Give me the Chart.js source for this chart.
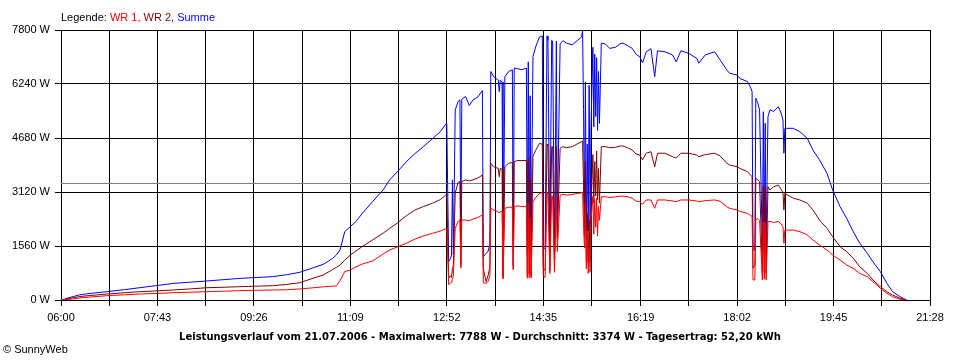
<!DOCTYPE html>
<html>
<head>
<meta charset="utf-8">
<script src="https://cdn.jsdelivr.net/npm/chart.js@4.4.1/dist/chart.umd.min.js"></script>
<style>
  html, body { margin: 0; padding: 0; background: #fff; }
</style>
</head>
<body>
<canvas id="leistung" width="960" height="360"></canvas>
<script>
// Achsen
const zeitAchse = ['06:00', '07:43', '09:26', '11:09', '12:52', '14:35', '16:19', '18:02', '19:45', '21:28'];
const wattAchse = [0, 1560, 3120, 4680, 6240, 7800];

// Messwerte (W)
const zeit = [
    '06:00','06:02','06:05','06:13','06:20','06:31','06:49','07:08','07:24','07:43',
    '08:00','08:18','08:36','08:55','09:11','09:29','09:46','10:01','10:15','10:26',
    '10:40','10:50','10:54','10:58','11:03','11:09','11:15','11:22','11:33','11:44',
    '11:51','11:59','12:09','12:18','12:27','12:37','12:45','12:51','12:52','12:54',
    '12:56','12:57','12:58','12:59','13:01','13:04','13:06','13:07','13:08','13:12',
    '13:16','13:20','13:25','13:30','13:31','13:34','13:36','13:38','13:39','13:42',
    '13:47','13:48','13:49','13:51','13:52','13:54','13:58','14:02','14:03','14:04',
    '14:08','14:12','14:17','14:18','14:19','14:20','14:21','14:22','14:24','14:27',
    '14:31','14:34','14:35','14:37','14:39','14:40','14:42','14:44','14:45','14:47',
    '14:49','14:50','14:53','14:56','15:00','15:06','15:12','15:16','15:17','15:18',
    '15:19','15:20','15:21','15:22','15:23','15:24','15:25','15:26','15:28','15:29',
    '15:30','15:31','15:32','15:33','15:34','15:35','15:37','15:41','15:46','15:52',
    '15:57','16:00','16:05','16:10','16:14','16:18','16:21','16:25','16:30','16:34',
    '16:37','16:45','16:53','16:57','17:02','17:10','17:19','17:21','17:28','17:38',
    '17:44','17:51','17:54','18:02','18:05','18:13','18:16','18:18','18:19','18:21',
    '18:22','18:24','18:26','18:29','18:30','18:31','18:32','18:33','18:35','18:37',
    '18:41','18:46','18:49','18:51','18:52','18:53','19:02','19:09','19:17','19:23',
    '19:30','19:38','19:44','19:52','19:59','20:06','20:13','20:21','20:27','20:35',
    '20:42','20:48','20:56','21:03'
];
const wr1 = [
    0,0,10,30,60,85,125,150,173,190,
    212,225,240,255,270,280,290,295,320,345,
    380,400,405,560,820,866,960,1040,1130,1330,
    1445,1530,1640,1760,1850,1930,1990,2060,2070,440,
    500,500,600,700,2070,2270,2310,920,2310,2310,
    2290,2340,2380,2455,500,480,530,700,2650,2600,
    2550,2510,2550,2550,620,2650,2680,2680,870,2700,
    2720,2700,2700,630,2800,640,2400,630,2840,2960,
    3080,3100,700,650,3100,3050,770,3000,3000,800,
    3000,1400,3030,3050,3030,3050,3080,3100,3120,2200,
    1500,2800,900,2000,770,1500,800,2300,3000,1900,
    2900,2100,2950,1850,2700,2300,2985,2985,2960,2980,
    3000,3000,2985,2940,2860,2840,2770,2890,2890,2650,
    2890,2890,2860,2840,2890,2890,2860,2840,2870,2890,
    2850,2695,2650,2600,2560,2505,2450,2410,578,580,
    2330,2350,2300,578,2270,600,2250,578,2265,2270,
    2240,2270,2200,2120,1640,2020,2020,1975,1880,1733,
    1590,1445,1300,1155,1010,915,770,673,530,337,
    193,96,20,0
];
const wr2 = [
    0,0,20,66,100,130,173,210,240,265,
    290,320,355,370,385,400,413,450,500,600,
    720,880,940,1010,1150,1300,1415,1550,1740,1930,
    2070,2220,2440,2600,2700,2800,2900,3030,3030,630,
    700,650,900,1000,3090,3400,3420,1000,3420,3470,
    3440,3470,3520,3610,900,530,700,950,3950,3850,
    3800,3560,3800,3780,700,3850,3950,3970,900,4000,
    4030,4030,4030,700,4100,750,3500,700,4140,4330,
    4525,4500,900,860,4500,4450,850,4430,4430,1000,
    4430,1800,4380,4430,4400,4430,4520,4570,4600,3300,
    1800,4000,1100,2500,1060,2300,1100,2700,4200,2800,
    4000,3000,4300,2900,3800,2800,4430,4430,4400,4410,
    4450,4450,4400,4330,4220,4190,4050,4240,4285,3850,
    4240,4240,4140,4100,4240,4240,4190,4140,4200,4240,
    4160,3950,3900,3850,3800,3710,3620,3560,915,1000,
    3515,3470,3420,770,3300,800,3250,770,3275,3180,
    3270,3320,3200,3100,2600,3080,2940,2890,2795,2600,
    2310,2070,1830,1540,1395,1205,960,770,578,385,
    240,145,50,0
];
const summe = [
    0,0,40,100,150,190,240,300,355,420,
    480,515,550,590,625,650,675,730,800,900,
    1030,1200,1300,1445,1975,2120,2270,2510,2850,3180,
    3470,3700,4000,4230,4430,4670,4860,5085,5100,1110,
    1200,1300,3470,1300,5490,5730,5780,1800,5800,5880,
    5620,5780,5860,6050,1250,1350,1400,1600,6600,6450,
    6350,6020,6350,6300,750,6450,6600,6650,1000,6700,
    6680,6650,6700,1400,6880,1500,5900,1400,7030,7320,
    7600,7630,1450,1500,7630,7500,1400,7500,7480,1250,
    7480,2200,7400,7490,7420,7370,7510,7600,7788,5500,
    2500,6300,2000,4500,2000,6200,2100,5000,7300,5000,
    7100,5300,7000,4900,6600,5100,7420,7400,7270,7300,
    7400,7420,7350,7270,7100,7030,6850,7170,7260,6450,
    7200,7170,7080,6880,7200,7130,6980,6840,7080,7170,
    6930,6645,6550,6500,6400,6310,6165,6020,1445,1445,
    5830,5700,5490,1445,5440,1600,5100,1500,5300,5490,
    5450,5585,5400,5200,4240,4960,4960,4860,4670,4330,
    4045,3660,3180,2695,2360,1975,1640,1350,1107,818,
    482,240,96,0
];

const datum = '21.07.2006';
const maximalwert = 7788;
const durchschnitt = 3374;
const tagesertrag = '52,20';

function minuten(s) {
    const p = s.split(':');
    return +p[0] * 60 + +p[1];
}

function punkte(werte) {
    return zeit.map((z, i) => ({ x: minuten(z), y: werte[i] }));
}

Chart.defaults.font.family = '"Liberation Sans", Arial, sans-serif';
Chart.defaults.font.size = 11;
Chart.defaults.color = '#000';

// Durchschnittslinie, Legende, Titel
const beschriftung = {
    id: 'beschriftung',
    beforeDatasetsDraw(chart) {
        const { ctx, chartArea, scales } = chart;
        const y = Math.round(scales.y.getPixelForValue(durchschnitt)) + 0.5;
        ctx.save();
        ctx.strokeStyle = '#808080';
        ctx.lineWidth = 1;
        ctx.beginPath();
        ctx.moveTo(chartArea.left, y);
        ctx.lineTo(chartArea.right, y);
        ctx.stroke();
        ctx.restore();
    },
    afterDraw(chart) {
        const ctx = chart.ctx;
        ctx.save();
        ctx.font = '11px "Liberation Sans", Arial, sans-serif';
        ctx.textBaseline = 'alphabetic';
        let x = 61;
        const teile = [['Legende: ', '#000']];
        chart.data.datasets.forEach((ds, i) => {
            const last = i === chart.data.datasets.length - 1;
            teile.push([ds.label + (last ? '' : ', '), ds.borderColor]);
        });
        teile.forEach(([t, c]) => {
            ctx.fillStyle = c;
            ctx.fillText(t, x, 21);
            x += ctx.measureText(t).width;
        });

        ctx.fillStyle = '#000';
        ctx.font = 'bold 10px "DejaVu Sans", sans-serif';
        ctx.textAlign = 'center';
        ctx.fillText('Leistungsverlauf vom ' + datum + ' - Maximalwert: ' + maximalwert + ' W - Durchschnitt: ' +
            durchschnitt + ' W - Tagesertrag: ' + tagesertrag + ' kWh', 480, 340);

        ctx.font = '11px "Liberation Sans", Arial, sans-serif';
        ctx.textAlign = 'left';
        ctx.fillText('\u00A9 SunnyWeb', 3, 353);
        ctx.restore();
    }
};

new Chart(document.getElementById('leistung'), {
    type: 'line',
    data: {
        datasets: [
            { label: 'WR 1', data: punkte(wr1), borderColor: '#ff0000' },
            { label: 'WR 2', data: punkte(wr2), borderColor: '#800000' },
            { label: 'Summe', data: punkte(summe), borderColor: '#0000ff' }
        ]
    },
    options: {
        responsive: false,
        animation: false,
        devicePixelRatio: 1,
        layout: { padding: { left: 0, right: 30, top: 30, bottom: 0 } },
        elements: {
            line: { borderWidth: 1, tension: 0, fill: false },
            point: { radius: 0 }
        },
        plugins: {
            legend: { display: false },
            tooltip: { enabled: false }
        },
        scales: {
            x: {
                type: 'linear',
                min: minuten(zeitAchse[0]),
                max: minuten(zeitAchse[zeitAchse.length - 1]),
                afterBuildTicks: (scale) => {
                    const t = [];
                    zeitAchse.forEach((z, i) => {
                        t.push({ value: minuten(z) });
                        if (i < zeitAchse.length - 1) {
                            t.push({ value: (minuten(z) + minuten(zeitAchse[i + 1])) / 2 });
                        }
                    });
                    scale.ticks = t;
                },
                afterFit: (scale) => { scale.height = 60; },
                grid: { color: '#000', lineWidth: 1, tickLength: 6, tickColor: '#000' },
                border: { color: '#000' },
                ticks: {
                    autoSkip: false,
                    maxRotation: 0,
                    padding: 5,
                    callback: (v, i) => (i % 2 === 0 ? zeitAchse[i / 2] : '')
                }
            },
            y: {
                min: wattAchse[0],
                max: wattAchse[wattAchse.length - 1],
                afterBuildTicks: (scale) => {
                    scale.ticks = wattAchse.map(v => ({ value: v }));
                },
                afterFit: (scale) => { scale.width = 61; },
                grid: { color: '#000', lineWidth: 1, tickLength: 6, tickColor: '#000' },
                border: { color: '#000' },
                ticks: {
                    padding: 5,
                    callback: v => v + ' W'
                }
            }
        }
    },
    plugins: [beschriftung]
});
</script>
</body>
</html>
